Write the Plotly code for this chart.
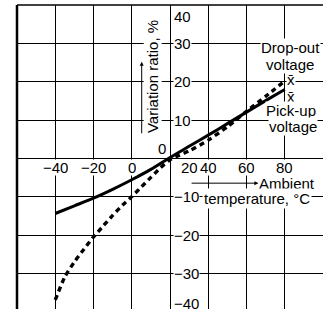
import plotly.graph_objects as go

# ---- data ----
temp_pickup = [-40, -30, -20, -10, 0, 10, 20, 30, 40, 50, 60, 70, 80]
ratio_pickup = [-14.3, -12.3, -10.3, -8.0, -5.5, -2.8, 0.3, 3.2, 6.1, 9.1, 12.1, 15.1, 18.0]

temp_dropout = [-40, -35, -30, -25, -20, -15, -10, -5, 0, 5, 10, 15, 20, 25, 30, 40, 50, 60, 70, 80]
ratio_dropout = [-36.8, -30.8, -26.9, -23.6, -20.4, -17.6, -14.8, -12.2, -9.9, -7.4, -4.9, -2.4,
                 -0.3, 0.9, 2.0, 4.8, 8.3, 12.3, 16.2, 20.2]

x_tick_vals = [-40, -20, 0, 20, 40, 60, 80]
x_tick_text = ["\u221240", "\u221220", "0", "20", "40", "60", "80"]
y_tick_vals = [40, 30, 20, 10, -10, -20, -30, -40]
y_tick_text = ["40", "30", "20", "10", "\u221210", "\u221220", "\u221230", "\u221240"]

FONT = dict(family="Liberation Sans, Arial, sans-serif", size=15, color="black")

fig = go.Figure()
fig.add_trace(go.Scatter(x=temp_dropout, y=ratio_dropout, mode="lines",
                         line=dict(color="black", width=3.4, dash="5px,4px", shape="spline", smoothing=0.6),
                         hoverinfo="skip", showlegend=False))
fig.add_trace(go.Scatter(x=temp_pickup, y=ratio_pickup, mode="lines",
                         line=dict(color="black", width=3, shape="spline", smoothing=0.6),
                         hoverinfo="skip", showlegend=False))

ann = []
# x tick labels (placed just below the horizontal axis at ratio 0)
for v, t in zip(x_tick_vals, x_tick_text):
    xs = 19.5 if v == 20 else 0
    ann.append(dict(x=v, y=0, xref="x", yref="y", text=t, showarrow=False,
                    xanchor="center", yanchor="middle", xshift=xs, yshift=-9,
                    bgcolor="white", borderpad=0, height=15, font=FONT))
# y tick labels (placed right of the vertical axis at 20 degC)
for v, t in zip(y_tick_vals, y_tick_text):
    yy, ys = v, 0
    if v == 40:
        ys = -11
    if v == -40:
        yy, ys = -39, 5
    ann.append(dict(x=20, y=yy, xref="x", yref="y", text=t, showarrow=False,
                    xanchor="left", yanchor="middle", xshift=3, yshift=ys,
                    bgcolor="white", borderpad=0, height=15, font=FONT))
# zero label
ann.append(dict(x=20, y=0, xref="x", yref="y", text="0", showarrow=False,
                xanchor="right", yanchor="middle", xshift=-3, yshift=10,
                bgcolor="white", borderpad=0, font=FONT))

# axis titles
ann.append(dict(x=10.9, y=21.4, xref="x", yref="y", text="Variation ratio, %", showarrow=False,
                textangle=-90, bgcolor="white", borderpad=0, font=FONT))
ann.append(dict(x=5.2, y=25.2, ax=5.2, ay=6.2, xref="x", yref="y", axref="x", ayref="y",
                text="", showarrow=True, arrowhead=2, arrowsize=0.8, arrowwidth=1, arrowcolor="black"))
ann.append(dict(x=66.2, y=-6.4, ax=30.5, ay=-6.4, xref="x", yref="y", axref="x", ayref="y",
                text="", showarrow=True, arrowhead=2, arrowsize=0.8, arrowwidth=1, arrowcolor="black"))
ann.append(dict(x=66.2, y=-6.6, xref="x", yref="y", text="Ambient", showarrow=False,
                xanchor="left", bgcolor="white", borderpad=0, font=FONT))
ann.append(dict(x=36.9, y=-10.3, xref="x", yref="y", text="temperature, \u00b0C", showarrow=False,
                xanchor="left", bgcolor="white", borderpad=1, font=FONT))

# series labels
for txt, xx, yy in [("Drop-out", 82.75, 29.0), ("voltage", 82.75, 24.6),
                    ("x\u0304", 83.5, 20.6), ("x\u0304", 83.5, 16.3),
                    ("Pick-up", 83.5, 12.4), ("voltage", 84.2, 8.4)]:
    ann.append(dict(x=xx, y=yy, xref="x", yref="y", text=txt, showarrow=False,
                    xanchor="center", yanchor="middle", bgcolor="white", borderpad=0, font=FONT))

shapes = [
    dict(type="line", xref="paper", yref="paper", x0=0, x1=0, y0=0, y1=1,
         line=dict(color="black", width=2.5)),
    dict(type="line", xref="paper", yref="paper", x0=0, x1=1, y0=1, y1=1,
         line=dict(color="black", width=1.5)),
]

fig.update_layout(
    width=323, height=309,
    margin=dict(l=17, r=0, t=5, b=0),
    paper_bgcolor="white", plot_bgcolor="white",
    annotations=ann, shapes=shapes,
    xaxis=dict(range=[-60, 100], tick0=-60, dtick=20, showgrid=True, gridcolor="black", gridwidth=1,
               zeroline=False, showticklabels=False, ticks="", showline=False, fixedrange=True),
    yaxis=dict(range=[-39.17, 40], tick0=0, dtick=10, showgrid=True, gridcolor="black", gridwidth=1,
               zeroline=False, showticklabels=False, ticks="", showline=False, fixedrange=True),
    font=FONT,
)

fig.write_html("out.html", config={"displayModeBar": False},
               post_script="document.body.style.margin='0';document.body.style.overflow='hidden';")
